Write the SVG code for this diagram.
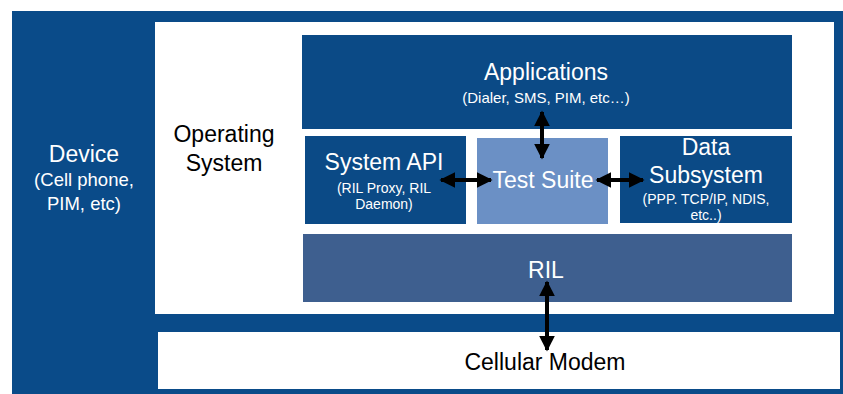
<svg xmlns="http://www.w3.org/2000/svg" width="843" height="394" viewBox="0 0 843 394">
<defs>
<style>
text{font-family:"Liberation Sans",Arial,sans-serif;text-anchor:middle}
.w{fill:#ffffff}
.k{fill:#000000}
.big{font-size:23px}
.sm{font-size:14px}
.dark{fill:#0b4a86}
.conn{stroke:#000;stroke-width:4;fill:none;marker-start:url(#ah);marker-end:url(#ah)}
</style>
<marker id="ah" viewBox="0 0 10 10" refX="9" refY="5" markerWidth="4" markerHeight="4" orient="auto-start-reverse" markerUnits="strokeWidth">
<path d="M0,0 L10,5 L0,10 z" fill="#000"/>
</marker>
</defs>
<rect width="843" height="394" fill="#ffffff"/>
<g id="device">
<rect x="12" y="11" width="831" height="383" fill="#0a4b89"/>
<text class="w" x="84" y="162" font-size="23">Device</text>
<text class="w" x="84" y="186" font-size="18.5">(Cell phone,</text>
<text class="w" x="84" y="210" font-size="18.5">PIM, etc)</text>
</g>
<g id="os">
<rect x="155" y="22" width="679" height="292" fill="#ffffff"/>
<text class="k big" x="224" y="142">Operating</text>
<text class="k big" x="224" y="171">System</text>
</g>
<g id="modem">
<rect x="158" y="332" width="682" height="57" fill="#ffffff"/>
<text class="k big" x="545" y="370">Cellular Modem</text>
</g>
<g id="applications">
<rect class="dark" x="302" y="35" width="490" height="94"/>
<text class="w big" x="546" y="80">Applications</text>
<text class="w" x="546" y="103" font-size="15">(Dialer, SMS, PIM, etc…)</text>
</g>
<g id="systemapi">
<rect class="dark" x="305" y="136" width="161" height="88"/>
<text class="w big" x="384" y="170">System API</text>
<text class="w sm" x="384" y="193">(RIL Proxy, RIL</text>
<text class="w sm" x="384" y="209">Daemon)</text>
</g>
<g id="testsuite">
<rect x="477" y="138" width="131" height="86" fill="#6b90c5"/>
<text class="w big" x="543" y="188">Test Suite</text>
</g>
<g id="datasubsystem">
<rect class="dark" x="620" y="136" width="172" height="87"/>
<text class="w big" x="706" y="155">Data</text>
<text class="w big" x="706" y="183">Subsystem</text>
<text class="w sm" x="706" y="204">(PPP. TCP/IP, NDIS,</text>
<text class="w sm" x="706" y="220">etc..)</text>
</g>
<g id="ril">
<rect x="303" y="234" width="489" height="68" fill="#3e5f8f"/>
<text class="w big" x="546" y="278">RIL</text>
</g>
<g id="connectors">
<line class="conn" x1="542" y1="112" x2="542" y2="158"/>
<line class="conn" x1="441" y1="180" x2="491" y2="180"/>
<line class="conn" x1="597" y1="180" x2="643" y2="180"/>
<line class="conn" x1="547" y1="282" x2="547" y2="350"/>
</g>
</svg>
